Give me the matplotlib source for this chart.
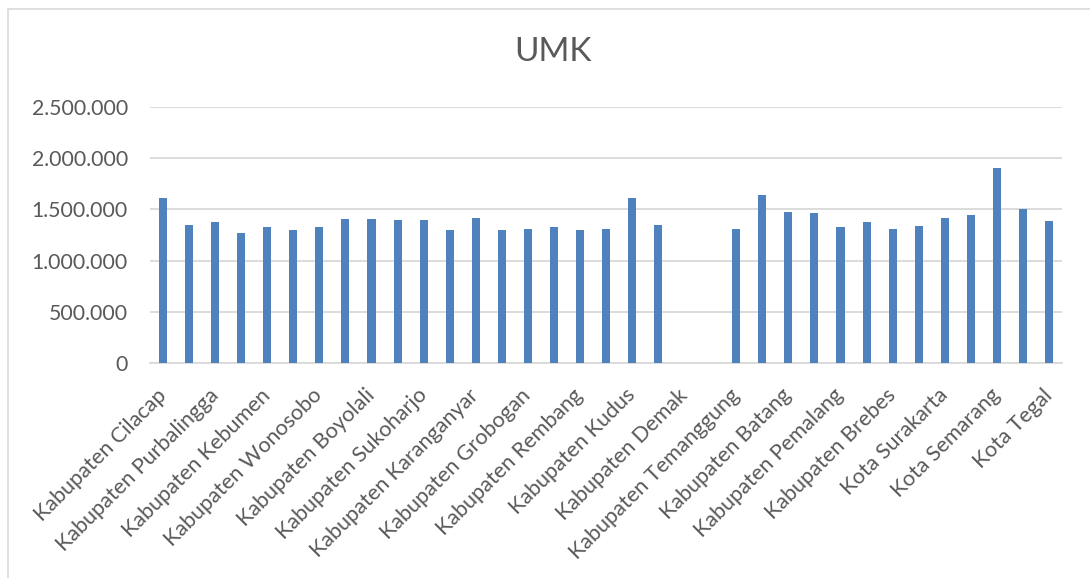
import matplotlib
matplotlib.use("Agg")
import matplotlib.pyplot as plt
import numpy as np
from matplotlib.patches import Rectangle
from matplotlib.ticker import FuncFormatter

plt.rcParams['font.family'] = ['Lato', 'DejaVu Sans']

# UMK Jawa Tengah, one value per kabupaten / kota (Demak and Kab. Semarang empty)
wilayah = [
    "Kabupaten Cilacap", "Kabupaten Banyumas", "Kabupaten Purbalingga",
    "Kabupaten Banjarnegara", "Kabupaten Kebumen", "Kabupaten Purworejo",
    "Kabupaten Wonosobo", "Kabupaten Magelang", "Kabupaten Boyolali",
    "Kabupaten Klaten", "Kabupaten Sukoharjo", "Kabupaten Wonogiri",
    "Kabupaten Karanganyar", "Kabupaten Sragen", "Kabupaten Grobogan",
    "Kabupaten Blora", "Kabupaten Rembang", "Kabupaten Pati",
    "Kabupaten Kudus", "Kabupaten Jepara", "Kabupaten Demak",
    "Kabupaten Semarang", "Kabupaten Temanggung", "Kabupaten Kendal",
    "Kabupaten Batang", "Kabupaten Pekalongan", "Kabupaten Pemalang",
    "Kabupaten Tegal", "Kabupaten Brebes", "Kota Magelang",
    "Kota Surakarta", "Kota Salatiga", "Kota Semarang",
    "Kota Pekalongan", "Kota Tegal",
]
umk = [
    1607000, 1351000, 1380000, 1266000, 1328000, 1302000, 1328000,
    1409000, 1406000, 1399000, 1396000, 1295000, 1419000, 1302000,
    1308000, 1331000, 1302000, 1308000, 1610000, 1351000, np.nan,
    np.nan, 1312000, 1643000, 1471000, 1464000, 1328000, 1373000,
    1308000, 1341000, 1419000, 1448000, 1909000, 1503000, 1386000,
]
y_ticks = [0, 500000, 1000000, 1500000, 2000000, 2500000]

text_col = '#595959'
grid_col = '#d9d9d9'

fig = plt.figure(figsize=(10.9, 5.78), dpi=100)
fig.patches.append(Rectangle((8/1090, -0.1), 1.2, 1 - 9/578 + 0.1,
                             transform=fig.transFigure, fill=False,
                             edgecolor=grid_col, linewidth=1.2))
ax = fig.add_axes([150/1090, 1 - 363/578, (1062 - 150)/1090, (363 - 107)/578])

x = np.arange(len(wilayah))
ax.bar(x, umk, width=0.31, color='#4f81bd', zorder=3)

ax.set_xlim(-0.5, len(wilayah) - 0.5)
ax.set_ylim(0, 2500000)
ax.set_yticks(y_ticks)
ax.yaxis.set_major_formatter(FuncFormatter(lambda v, p: f"{int(v):,}".replace(",", ".")))
ax.yaxis.grid(True, color=grid_col, linewidth=1.3, zorder=0)

ax.set_xticks(x[::2])
ax.set_xticklabels(wilayah[::2], rotation=45, ha='right', va='center',
                   rotation_mode='anchor')

for s in ['top', 'right', 'left']:
    ax.spines[s].set_visible(False)
ax.spines['bottom'].set_color(grid_col)
ax.spines['bottom'].set_linewidth(1.3)
ax.tick_params(axis='y', length=0, pad=16, labelsize=15.3, labelcolor=text_col)
ax.tick_params(axis='x', length=0, pad=21, labelsize=15.6, labelcolor=text_col)

fig.text(553/1090, 1 - 52/578, "UMK", ha='center', va='center',
         fontsize=24, color=text_col)

fig.savefig("out.png", dpi=100)
